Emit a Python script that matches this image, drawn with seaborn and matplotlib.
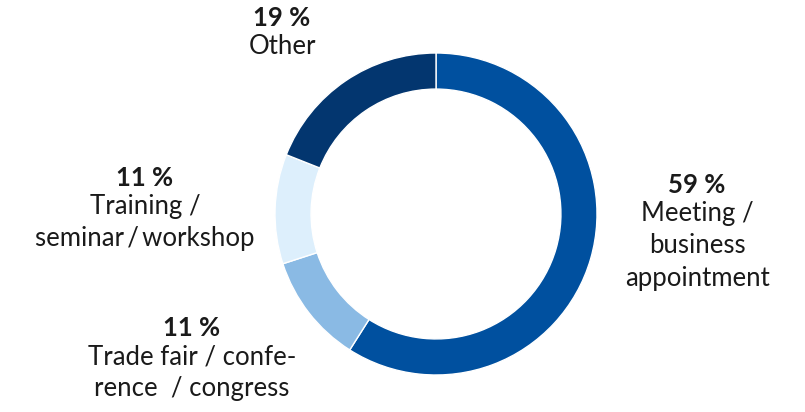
import matplotlib
matplotlib.use("Agg")
import matplotlib.pyplot as plt
import seaborn as sns

categories = ["Meeting /\nbusiness\nappointment", "Trade fair / confe-\nrence  / congress",
              "Training /\nseminar\u2009/\u2009workshop", "Other"]
values = [59, 11, 11, 19]
pct_labels = ["59 %", "11 %", "11 %", "19 %"]
colors = ["#00509F", "#8ABAE4", "#DDEFFC", "#03366F"]

sns.set_theme(style="white")
plt.rcParams['font.family'] = ['Lato', 'DejaVu Sans']

W, H = 805, 412
fig = plt.figure(figsize=(W / 100, H / 100), dpi=100)
ax = fig.add_axes([0, 0, 1, 1])

cx, cy, R = 436, H - 214, 161
ax.pie(values, colors=colors, startangle=90, counterclock=False,
       center=(cx, cy), radius=R, frame=True,
       wedgeprops=dict(width=R * 0.224, edgecolor="white", linewidth=1))
ax.set_xlim(0, W)
ax.set_ylim(0, H)
ax.set_aspect("equal")
ax.axis("off")

# label anchor positions (x center, y of percentage line) in pixels from top
label_pos = [(697, 185), (192, 328), (145, 178), (282, 18)]
txt_color = "#1a1a1a"
fs = 18.5
for (x, y), pct, cat in zip(label_pos, pct_labels, categories):
    ax.text(x, H - y, pct, ha="center", va="center", fontsize=fs,
            fontweight="bold", color=txt_color)
    ax.text(x, H - y - 16, cat, ha="center", va="top", fontsize=fs,
            color=txt_color, linespacing=1.37)

fig.savefig("out.png", dpi=100)
